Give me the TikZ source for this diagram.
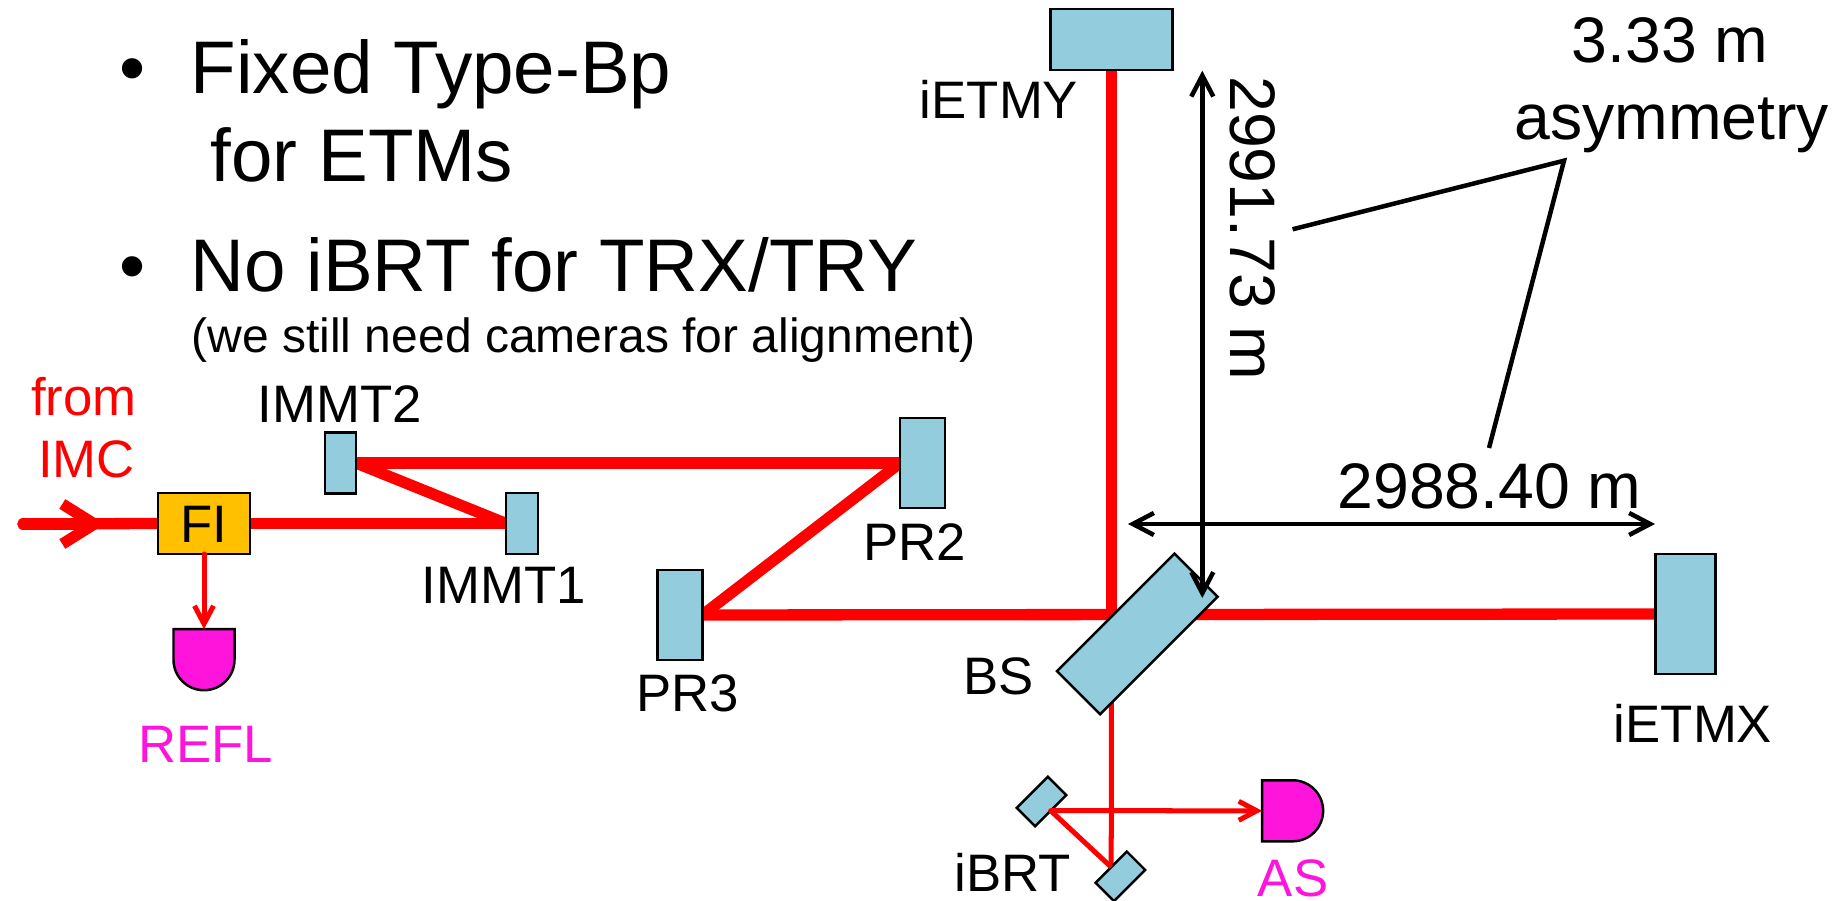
\documentclass[tikz,border=0pt]{standalone}
\usepackage{fontspec}
\setmainfont{Liberation Sans}
\usetikzlibrary{shapes.misc, arrows.meta, backgrounds}
\definecolor{mirrorblue}{RGB}{147,205,221}
\definecolor{fiamber}{RGB}{255,192,0}
\definecolor{pdmagenta}{RGB}{255,20,220}
\newcommand{\lblfont}{\fontsize{15}{18}\selectfont}
\newcommand{\dimfont}{\fontsize{18.3}{22}\selectfont}
\newcommand{\bigfont}{\fontsize{21.2}{25}\selectfont}
\newcommand{\smallfont}{\fontsize{13.65}{16}\selectfont}

\begin{document}
\begin{tikzpicture}[
  x=0.01cm, y=-0.01cm,
  mirror/.style={
    rectangle, draw=black, line width=0.7pt, fill=mirrorblue,
    inner sep=0pt, outer sep=0pt
  },
  isolator/.style={
    rectangle, draw=black, line width=0.7pt, fill=fiamber,
    minimum width=0.92cm, minimum height=0.61cm, inner sep=0pt, outer sep=0pt
  },
  detector/.style={
    rounded rectangle, rounded rectangle left arc=none,
    draw=black, line width=0.7pt, fill=pdmagenta,
    minimum width=0.61cm, minimum height=0.61cm, inner sep=0pt, outer sep=0pt
  },
  lbl/.style={anchor=base, inner sep=0pt, font=\lblfont},
  redlbl/.style={lbl, text=red},
  pdlbl/.style={lbl, text=pdmagenta},
  dimlbl/.style={anchor=base, inner sep=0pt, font=\dimfont},
  bullettext/.style={anchor=base west, inner sep=0pt, font=\bigfont},
  beam/.style={draw=red, line width=0.113cm},
  pickoff/.style={draw=red, line width=0.05cm},
  inarr/.style={beam, line cap=round, -{Straight Barb[length=0.32cm,width=0.40cm]}},
  pickarr/.style={pickoff, line cap=round, -{Straight Barb[length=0.18cm,width=0.19cm]}},
  dimarr/.style={line width=0.045cm, line cap=round, {Straight Barb[length=0.21cm,width=0.22cm]}-{Straight Barb[length=0.21cm,width=0.22cm]}},
  leader/.style={line width=0.045cm, line join=miter}
]
\useasboundingbox (0,0) rectangle (1845,901);

% Notes
\node[bullettext] (bulfixed) at (119,94) {•};
\node[bullettext] (fixed) at (190,94) {Fixed Type-Bp};
\node[bullettext] (etms) at (210,182) {for ETMs};
\node[bullettext] (bulibrt) at (119,292) {•};
\node[bullettext] (noibrt) at (190,292) {No iBRT for TRX/TRY};
\node[anchor=base west, inner sep=0pt, font=\smallfont] (cameras) at (191,353)
{(we still need cameras for alignment)};

% Input optics
\node[isolator] (fi) at (204,523.5) {};
\node[lbl] (filbl) at (204,543) {FI};
\node[mirror, minimum width=0.31cm, minimum height=0.61cm] (immtb) at (340.5,463) {};
\node[mirror, minimum width=0.32cm, minimum height=0.61cm] (immta) at (522,523.5) {};
\node[mirror, minimum width=0.45cm, minimum height=0.90cm] (prb) at (922.5,463) {};
\node[mirror, minimum width=0.45cm, minimum height=0.90cm] (prc) at (680,615) {};

% Arms
\node[mirror, minimum width=1.66cm, minimum height=0.61cm, rotate=45] (bs) at (1137.3,634) {};
\node[mirror, minimum width=1.22cm, minimum height=0.61cm] (etmy) at (1111.5,39.7) {};
\node[mirror, minimum width=0.60cm, minimum height=1.20cm] (etmx) at (1685.6,614) {};

% Output optics
\node[mirror, minimum width=0.44cm, minimum height=0.26cm, rotate=45] (brta) at (1041.5,801.5) {};
\node[mirror, minimum width=0.44cm, minimum height=0.26cm, rotate=45] (brtb) at (1120.4,876.3) {};
\node[detector] (as) at (1292.6,810.8) {};
\node[detector, rotate=-90] (refl) at (204,659.7) {};

\coordinate (imcin) at (23,524);
\coordinate (imcarr) at (105,524);
\coordinate (bsport) at (1111.5,614);

% Beams
\begin{scope}[on background layer]
  \draw[beam, line cap=round] (imcin) -- (fi.west);
  \draw[beam] (fi.east) -- (immta.west);
  \draw[beam] (immta.west) -- (immtb.east);
  \draw[beam] (immtb.east) -- (prb.west);
  \draw[beam] (prb.west) -- (prc.east);
  \draw[beam] (prc.east) -- (etmx.west);
  \draw[beam] (bsport) -- (etmy.south);
  \draw[pickoff] (bsport) -- (brtb.north);
\end{scope}
\draw[inarr] (imcin) -- (imcarr);
\draw[pickarr] (fi.south) -- (refl.west);
\draw[pickoff, line join=miter] (brtb.north) -- (brta.south);
\draw[pickarr] (brta.south) -- (as.west);

% Dimensions
\coordinate (dimxl) at (1128,524);
\coordinate (dimxr) at (1655,524);
\coordinate (dimyt) at (1202.3,70.7);
\coordinate (dimyb) at (1202.3,598);
\draw[dimarr] (dimxl) -- (dimxr);
\draw[dimarr] (dimyb) -- (dimyt);

\coordinate (leadapex) at (1564,160.7);
\coordinate (leady) at (1292.6,229.3);
\coordinate (leadx) at (1489,448);
\draw[leader] (leady) -- (leadapex) -- (leadx);

% Labels
\node[redlbl] (from) at (84,415.5) {from};
\node[redlbl] (imc) at (86.5,477.7) {IMC};
\node[pdlbl] (refllbl) at (205.5,763) {REFL};
\node[pdlbl] (aslbl) at (1293,897) {AS};
\node[lbl] (immtblbl) at (340,422.7) {IMMT2};
\node[lbl] (immtalbl) at (504,604) {IMMT1};
\node[lbl] (prblbl) at (915,561) {PR2};
\node[lbl] (prclbl) at (688,712) {PR3};
\node[lbl] (bslbl) at (998.5,695) {BS};
\node[lbl] (brtlbl) at (1012.5,892) {iBRT};
\node[lbl] (etmylbl) at (999,119) {iETMY};
\node[lbl] (etmxlbl) at (1693,742.5) {iETMX};
\node[dimlbl] (asym) at (1670,63) {3.33 m};
\node[dimlbl] (asymb) at (1671.6,140) {asymmetry};
\node[dimlbl] (xlen) at (1489.5,509) {2988.40 m};
\node[dimlbl, rotate=-90] (ylen) at (1230.6,228.5) {2991.73 m};

\end{tikzpicture}
\end{document}
